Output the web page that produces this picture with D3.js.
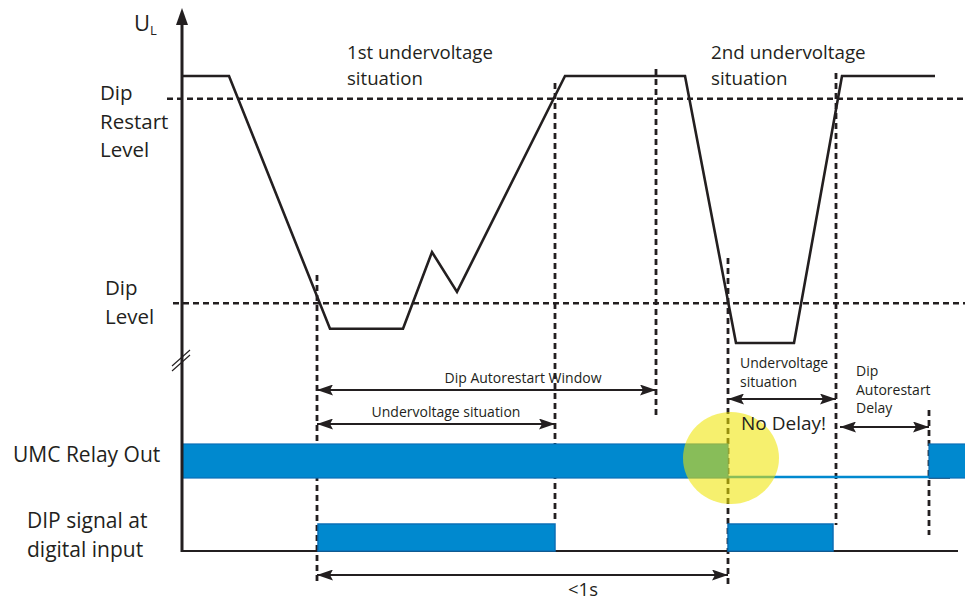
<!DOCTYPE html>
<html>
<head>
<meta charset="utf-8">
<script src="https://cdn.jsdelivr.net/npm/d3@7"></script>
<style>
  html, body { margin: 0; padding: 0; background: #fff; }
  svg { display: block; font-family: "Open Sans", "Noto Sans", sans-serif; }
</style>
</head>
<body>
<svg id="chart" width="965" height="601"></svg>
<script>
// ---------------- DATA (time in arbitrary units, voltage in % of nominal) ----------------
const voltageTime  = [0, 47, 148, 221, 250, 275, 383, 503, 554, 612, 660, 753];
const voltageValue = [100, 100, 11, 11, 38, 24, 100, 100, 6, 6, 100, 100];
const dipRestartLevel = 92;
const dipLevel = 20;

// moments marked with vertical dashed lines
const eventNames = ["dipStart1", "restart1", "windowEnd", "dipStart2", "restart2", "delayEnd"];
const eventTimes = [135, 373, 474, 546, 654, 747];

// relay output ON intervals and DIP digital input ON intervals
const relayOn     = [[0, 546], [747, 790]];
const dipSignalOn = [[136, 373], [546, 651]];

// labelled intervals (arrows)
const intervalLabels = [["Dip Autorestart Window"], ["Undervoltage situation"], ["Undervoltage", "situation"], ["Dip", "Autorestart", "Delay"], ["<1s"]];
const intervalStart  = [135, 135, 546, 658, 135];
const intervalEnd    = [474, 373, 654, 747, 546];

const levelLabels  = [["Dip", "Restart", "Level"], ["Dip", "Level"]];
const signalLabels = [["UMC Relay Out"], ["DIP signal at", "digital input"]];
const phaseLabels  = [["1st undervoltage", "situation"], ["2nd undervoltage", "situation"]];

// ---------------- LAYOUT ----------------
const svg = d3.select("#chart");
const ink = "#231f20";
const blue = "#0089cf";
const blueEdge = "#0a6fb7";

const x = d3.scaleLinear().domain([0, 783]).range([182, 965]);
const yV = d3.scaleLinear().domain([0, 100]).range([360, 76]);

// ---- horizontal dashed level lines
svg.append("line").attr("x1", 167).attr("x2", 965)
  .attr("y1", yV(dipRestartLevel)).attr("y2", yV(dipRestartLevel))
  .attr("stroke", ink).attr("stroke-width", 2.4).attr("stroke-dasharray", "6,4");
svg.append("line").attr("x1", 173).attr("x2", 965)
  .attr("y1", yV(dipLevel)).attr("y2", yV(dipLevel))
  .attr("stroke", ink).attr("stroke-width", 2.4).attr("stroke-dasharray", "6,4");

// ---- vertical dashed event lines
const eventExtent = {
  dipStart1: [275, 582], restart1: [83, 520], windowEnd: [69, 415],
  dipStart2: [258, 585], restart2: [73, 525], delayEnd: [410, 535]
};
svg.append("g").selectAll("line").data(eventTimes).join("line")
  .attr("x1", d => x(d)).attr("x2", d => x(d))
  .attr("y1", (d, i) => eventExtent[eventNames[i]][0])
  .attr("y2", (d, i) => eventExtent[eventNames[i]][1])
  .attr("stroke", ink).attr("stroke-width", 2.8).attr("stroke-dasharray", "6,4");

// ---- voltage curve
const vPts = voltageTime.map((t, i) => [t, voltageValue[i]]);
svg.append("path").datum(vPts)
  .attr("d", d3.line().x(d => x(d[0])).y(d => yV(d[1])))
  .attr("fill", "none").attr("stroke", ink).attr("stroke-width", 2.6)
  .attr("stroke-linejoin", "miter");

// ---- relay output
const relayTop = 444, relayBot = 478;
svg.append("line").attr("x1", x(relayOn[0][1])).attr("x2", x(relayOn[1][0]))
  .attr("y1", relayBot - 1).attr("y2", relayBot - 1)
  .attr("stroke", blue).attr("stroke-width", 2.4);
svg.append("line").attr("x1", x(relayOn[1][0])).attr("x2", x(768))
  .attr("y1", relayBot).attr("y2", relayBot)
  .attr("stroke", ink).attr("stroke-width", 1.5);
svg.append("g").selectAll("rect").data(relayOn).join("rect")
  .attr("x", d => x(d[0])).attr("width", d => x(d[1]) - x(d[0]))
  .attr("y", relayTop).attr("height", relayBot - relayTop)
  .attr("fill", blue).attr("stroke", blueEdge).attr("stroke-width", 1.2);

// ---- DIP signal
const dipTop = 524, dipBot = 551;
svg.append("line").attr("x1", x(0)).attr("x2", x(776)).attr("y1", dipBot).attr("y2", dipBot)
  .attr("stroke", ink).attr("stroke-width", 2.2);
svg.append("g").selectAll("rect").data(dipSignalOn).join("rect")
  .attr("x", d => x(d[0])).attr("width", d => x(d[1]) - x(d[0]))
  .attr("y", dipTop).attr("height", dipBot - dipTop)
  .attr("fill", blue).attr("stroke", blueEdge).attr("stroke-width", 1.5);

// ---- yellow highlight circle ("No Delay!")
svg.append("ellipse").attr("cx", x(eventTimes[3]) + 3).attr("cy", 458)
  .attr("rx", 48).attr("ry", 46)
  .attr("fill", "#f0e400").attr("fill-opacity", 0.57);

// ---- y axis with arrow and break
svg.append("line").attr("x1", 182).attr("x2", 182).attr("y1", 22).attr("y2", dipBot + 1)
  .attr("stroke", ink).attr("stroke-width", 3);
svg.append("path").attr("d", "M182,8 L176,25 L188,25 Z").attr("fill", ink);
svg.append("line").attr("x1", 172).attr("y1", 366).attr("x2", 190).attr("y2", 350)
  .attr("stroke", ink).attr("stroke-width", 1.2);
svg.append("line").attr("x1", 172).attr("y1", 371).attr("x2", 190).attr("y2", 355)
  .attr("stroke", ink).attr("stroke-width", 1.2);

// ---- interval arrows
const arrowY = [390, 424, 399, 427, 575];
const defs = svg.append("defs");
["start", "end"].forEach(k => {
  defs.append("marker").attr("id", "arr-" + k)
    .attr("viewBox", "0 0 16 11").attr("refX", k === "end" ? 16 : 0).attr("refY", 5.5)
    .attr("markerWidth", 16).attr("markerHeight", 11).attr("markerUnits", "userSpaceOnUse")
    .attr("orient", "auto")
    .append("path").attr("d", k === "end" ? "M0,0 L16,5.5 L0,11 L3,5.5 Z" : "M16,0 L0,5.5 L16,11 L13,5.5 Z")
    .attr("fill", ink);
});
svg.append("g").selectAll("line").data(intervalStart).join("line")
  .attr("x1", (d, i) => x(d)).attr("x2", (d, i) => x(intervalEnd[i]))
  .attr("y1", (d, i) => arrowY[i]).attr("y2", (d, i) => arrowY[i])
  .attr("stroke", ink).attr("stroke-width", 2.2)
  .attr("marker-start", "url(#arr-start)").attr("marker-end", "url(#arr-end)");

// interval label placement
const intervalText = [
  {x: 523, y: 383, anchor: "middle", size: 14, lh: 19},
  {x: 446, y: 417, anchor: "middle", size: 14, lh: 19},
  {x: 740, y: 368, anchor: "start", size: 14, lh: 19},
  {x: 856, y: 376, anchor: "start", size: 14, lh: 18.5},
  {x: 583, y: 596, anchor: "middle", size: 18.5, lh: 19}
];

function multiText(g, lines, p) {
  const t = g.append("text").attr("x", p.x).attr("y", p.y)
    .attr("text-anchor", p.anchor).attr("font-size", p.size).attr("fill", ink);
  lines.forEach((s, i) => t.append("tspan").attr("x", p.x).attr("y", p.y + i * p.lh).text(s));
}
const lg = svg.append("g");
intervalLabels.forEach((lines, i) => multiText(lg, lines, intervalText[i]));

// "No Delay!"
lg.append("text").attr("x", 741).attr("y", 430).attr("font-size", 19).attr("fill", ink).text("No Delay!");

// level labels
const levelText = [{x: 100, y: 100, anchor: "start", size: 20.5, lh: 28.5}, {x: 105, y: 295, anchor: "start", size: 20.5, lh: 29}];
levelLabels.forEach((lines, i) => multiText(lg, lines, levelText[i]));

// signal labels
const signalText = [{x: 13, y: 462, anchor: "start", size: 21, lh: 29}, {x: 27, y: 528, anchor: "start", size: 21, lh: 29}];
signalLabels.forEach((lines, i) => multiText(lg, lines, signalText[i]));

// phase labels
const phaseText = [{x: 347, y: 59, anchor: "start", size: 18.6, lh: 25.6}, {x: 711, y: 59, anchor: "start", size: 18.8, lh: 25.6}];
phaseLabels.forEach((lines, i) => multiText(lg, lines, phaseText[i]));

// axis title U_L
const ut = lg.append("text").attr("x", 134).attr("y", 31).attr("font-size", 22).attr("fill", ink);
ut.append("tspan").text("U");
ut.append("tspan").attr("font-size", 13).attr("dy", 4).text("L");
</script>
</body>
</html>
